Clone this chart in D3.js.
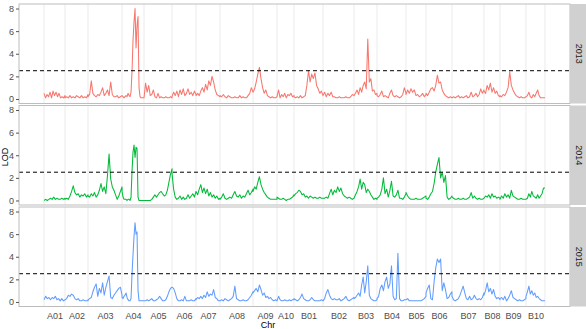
<!DOCTYPE html>
<html><head><meta charset="utf-8">
<script src="https://cdn.jsdelivr.net/npm/d3@7"></script>
<style>body{margin:0;background:#fff}svg{display:block;font-family:"Liberation Sans",Arial,sans-serif}</style>
</head><body><svg id="c" width="586" height="329"></svg>
<script>
const chromosomes = ["A01","A02","A03","A04","A05","A06","A07","A08","A09","A10","B01","B02","B03","B04","B05","B06","B07","B08","B09","B10"];
const chrLengths = [84,92,136,88,112,96,96,132,96,68,116,124,92,116,80,104,128,64,104,76];
const years = ["2013","2014","2015"];
const colors = ["#F8766D","#00BA38","#619CFF"];
const yTicks = [0,2,4,6,8];
const threshold = 2.5;

const lod2013 = [
 [0.5,0.1,0.4,0.2,0.6,0.1,0.7,0.3,0.6,0.2,0.5,0.1,0.2,0.1,0.3],
 [0.1,0.2,0.1,0.3,0.1,0.2,0.1,0.3,0.2,0.1,0.3,0.1,0.2,0.1,0.4],
 [0.2,0.4,1.6,0.5,0.3,0.2,0.4,0.3,0.6,1.0,0.3,0.5,0.8,0.3,1.5,0.4,0.2,0.2,0.3,0.1,0.2,0.3],
 [0.3,0.2,0.1,0.2,0.3,0.2,0.5,0.3,0.2,0.6,2.5,5.2,6.8,8.0,4.5,6.5,7.3,1.0,0.2,0.1,0.1,0.1,0.1],
 [0.1,1.4,0.6,1.2,0.3,0.4,0.8,0.2,0.1,0.5,0.1,0.2,0.1,0.1,0.2,0.1,0.1,0.2,0.1],
 [0.2,0.6,0.3,0.7,0.2,0.8,0.4,0.9,0.3,0.5,0.9,0.4,0.6,0.3,0.7,0.4],
 [0.3,0.5,0.3,0.7,1.0,0.6,1.3,0.8,1.6,1.2,2.0,1.5,0.8,0.4,0.3,0.2],
 [0.3,0.2,0.4,0.2,0.1,0.3,0.2,0.1,0.1,0.2,0.1,0.1,0.3,0.1,0.2,0.1,0.1,0.3,0.5,1.0,0.6],
 [0.6,0.9,1.5,2.2,2.8,1.8,1.0,0.5,0.8,0.3,0.2,0.1,0.2,0.1,0.1,0.2],
 [0.2,0.8,0.1,0.4,0.2,0.5,0.1,0.4,0.3,0.5,0.2,0.3],
 [0.2,0.1,0.2,0.1,0.3,0.1,0.2,0.3,1.2,2.5,1.5,2.2,1.8,2.3,1.2,0.9,0.5,0.7,0.3],
 [0.3,0.6,0.2,0.5,0.3,0.6,0.2,0.2,0.1,0.1,0.2,0.1,0.1,0.1,0.2,0.1,0.1,0.2,0.4,0.3],
 [0.3,0.5,0.8,0.4,1.0,0.6,1.2,1.5,0.9,5.3,1.5,1.8,0.7,0.8,0.4,0.5],
 [0.3,0.2,0.4,0.7,0.2,0.3,0.2,0.1,0.5,0.8,0.3,0.2,0.3,0.2,0.1,0.2,0.4,1.0,0.5],
 [0.4,0.8,0.5,0.9,0.6,0.8,0.3,0.4,0.2,0.3,0.5,0.2,0.4],
 [0.5,0.3,0.6,0.9,1.0,0.7,1.2,2.1,1.4,1.5,0.8,0.5,0.3,0.2,0.1,0.2,0.1],
 [0.1,0.2,0.1,0.2,0.3,0.1,0.2,0.1,0.2,0.3,0.1,0.2,0.6,0.2,0.3,0.5,0.2,0.4,0.9,0.5,0.8],
 [0.7,0.5,1.2,0.8,1.4,0.6,1.0,0.5,0.7,0.3,0.2],
 [0.3,0.2,0.4,0.3,0.6,1.0,2.4,1.2,0.8,0.5,0.3,0.2,0.1,0.2,0.1,0.1,0.2],
 [0.2,0.3,0.6,0.2,0.1,0.4,0.2,0.5,0.8,0.3,0.1,0.1,0.1,0.1]
];
const lod2014 = [
 [0.0,0.1,0.0,0.1,0.2,0.1,0.3,0.1,0.2,0.1,0.1,0.2,0.1,0.2],
 [0.1,0.2,0.1,0.4,0.8,1.3,0.7,0.5,0.6,0.3,0.5,0.4,0.6,0.3,0.5],
 [0.4,0.3,0.6,0.4,0.7,0.3,0.5,0.9,1.5,0.8,1.2,0.6,2.2,4.1,1.9,1.2,0.9,0.5,0.1,0.4,0.8,1.2],
 [0.8,0.3,0.1,0.1,0.1,0.0,0.1,0.1,0.0,0.3,2.6,4.3,4.9,3.8,4.7,4.6,0.3,0.0,0.0,0.0,0.0,0.0,0.0],
 [0.0,0.0,0.0,0.0,0.0,0.1,0.3,0.5,0.3,0.5,0.7,0.8,0.6,0.4,0.5,0.9,1.6,2.3,2.8],
 [2.4,1.0,0.3,0.1,0.2,0.4,0.1,0.3,0.1,0.2,0.5,0.2,0.4,0.6,0.3,0.8],
 [0.8,0.5,1.0,1.4,0.7,1.1,0.6,1.0,0.4,0.7,0.3,0.5,0.2,0.4,0.1,0.2],
 [0.1,0.3,0.6,0.2,0.1,0.2,0.3,0.2,0.5,0.8,0.4,0.3,0.5,0.2,0.4,0.3,0.6,0.9,0.5,0.7,1.0],
 [0.8,1.2,1.0,1.6,2.1,1.4,1.0,0.7,0.5,0.3,0.2,0.1,0.1,0.1,0.1,0.1],
 [0.3,0.2,0.1,0.1,0.2,0.1,0.0,0.1,0.1,0.2,0.3,0.5],
 [0.4,0.6,0.7,0.9,0.8,0.5,0.6,0.3,0.4,0.2,0.4,0.3,0.2,0.3,0.2,0.2,0.3,0.2,0.2],
 [0.2,0.2,0.3,0.2,0.6,1.0,0.5,0.9,0.7,1.2,0.8,1.1,0.6,0.4,0.3,0.2,0.3,0.2,0.1,0.2],
 [0.2,0.5,0.8,1.2,1.9,1.0,1.6,1.4,0.7,1.0,0.8,0.5,0.3,0.1,0.2,0.1],
 [0.2,0.3,0.5,1.0,2.0,0.6,1.0,0.3,0.9,1.7,0.4,0.3,0.5,0.9,0.2,0.2,0.1,0.3,0.6],
 [0.7,0.4,0.2,0.1,0.1,0.1,0.2,0.1,0.1,0.1,0.2,0.3,0.4],
 [0.2,0.1,0.3,0.6,0.8,1.5,2.5,3.2,3.8,2.0,2.5,1.6,2.2,0.3,0.1,0.2,0.4],
 [0.3,0.2,0.1,0.1,0.2,0.1,0.1,0.2,0.1,0.1,0.2,0.3,0.7,0.2,0.4,0.2,0.1,0.2,0.1,0.1,0.2],
 [0.2,0.4,0.3,0.5,0.2,0.6,0.3,0.4,0.2,0.3,0.2],
 [0.1,0.4,0.2,0.6,0.3,0.5,0.2,0.9,0.4,0.3,0.2,0.1,0.1,0.2,0.1,0.1,0.1],
 [0.1,0.2,0.6,0.3,0.8,0.4,0.3,0.2,0.5,0.2,0.4,0.6,1.1,1.1]
];
const lod2015 = [
 [0.2,0.5,0.3,0.4,0.2,0.4,0.3,0.5,0.2,0.3,0.1,0.3,0.1,0.2],
 [0.2,0.3,0.6,0.5,0.7,0.6,0.3,0.2,0.3,0.1,0.1,0.2,0.1,0.1,0.1],
 [0.2,0.3,0.4,0.9,1.3,1.6,0.5,1.2,0.8,1.7,0.6,1.3,1.8,2.3,0.4,0.3,0.6,0.8,1.0,1.2,1.3,0.6],
 [0.4,0.3,0.5,0.6,0.8,0.4,0.2,0.1,0.1,0.3,2.5,4.2,5.8,7.0,6.0,6.2,1.0,0.1,0.1,0.1,0.1,0.1,0.1],
 [0.1,0.1,0.2,0.1,0.2,0.3,0.1,0.1,0.2,0.3,0.5,0.3,0.1,0.1,0.2,0.5,0.9,1.2,1.3],
 [1.3,1.2,0.8,0.3,0.1,0.1,0.2,0.1,0.5,0.1,0.1,0.1,0.2,0.1,0.1,0.3],
 [0.2,0.4,0.3,0.5,0.3,0.6,0.4,0.9,0.5,0.7,0.6,1.1,0.4,0.3,0.1,0.1],
 [0.1,0.2,0.1,0.3,0.2,0.1,0.2,0.3,0.5,1.4,0.3,0.2,0.1,0.1,0.2,0.1,0.1,0.2,0.4,0.6,0.9],
 [0.8,1.0,1.2,0.9,1.5,1.1,0.6,0.8,0.4,0.5,0.3,0.4,0.2,0.1,0.2,0.1],
 [0.1,0.5,0.2,0.1,0.1,0.2,0.1,0.1,0.2,0.1,0.2,0.2],
 [0.3,0.2,0.1,0.2,0.4,0.7,0.3,0.2,0.1,0.1,0.2,0.4,0.2,0.1,0.1,0.1,0.1,0.2,0.1],
 [0.1,0.3,0.8,1.1,0.6,0.3,0.2,0.3,0.2,0.2,0.3,0.1,0.2,0.3,0.5,0.2,0.1,0.2,0.3,0.4],
 [0.3,0.4,0.6,0.8,0.5,1.5,2.2,0.8,1.8,3.2,0.6,0.3,0.2,0.1,0.1,0.2],
 [0.3,0.5,1.2,1.5,1.0,1.8,2.2,1.2,1.6,3.2,0.5,0.2,0.3,4.3,0.3,0.1,0.1,0.2,0.2],
 [0.2,0.3,0.1,0.1,0.1,0.1,0.1,0.1,0.1,0.1,0.2,0.3,0.5],
 [0.8,1.2,1.5,0.3,0.2,1.8,3.0,3.8,3.5,3.8,1.0,1.7,1.1,0.3,0.4,0.7,0.9],
 [0.5,0.2,0.1,0.2,0.3,0.6,1.0,1.4,0.8,0.3,0.2,0.5,0.2,0.3,0.6,0.3,0.2,0.3,0.2,0.4,0.8],
 [0.6,1.0,1.7,0.9,1.2,0.7,1.1,0.5,0.3,0.4,0.2],
 [0.3,0.4,0.2,0.5,0.1,0.3,0.6,1.0,0.4,0.3,0.2,0.1,0.2,0.1,0.1,0.2,0.3],
 [0.5,0.9,1.4,0.7,1.0,0.6,0.8,0.4,0.5,0.3,0.2,0.1,0.1,0.1]
];
const lodByYear = [lod2013, lod2014, lod2015];

const starts = [];
let acc = 0;
chrLengths.forEach(l => { starts.push(acc); acc += l; });
const total = acc;
const bounds = starts.concat([total]);

const svg = d3.select("#c");
const left = 19, right = 570, stripW = 17;
const panelTop0 = 4, panelH = 99.5, gap = 2;

const x = d3.scaleLinear().domain([-0.05*total, total*1.05]).range([left, right]);

function series(lod) {
  const pts = [];
  lod.forEach((vals, ci) => {
    const n = vals.length;
    vals.forEach((v, i) => pts.push([starts[ci] + chrLengths[ci]*i/(n-1), v]));
  });
  return pts;
}

years.forEach((yr, k) => {
  const top = panelTop0 + k*(panelH + gap);
  const bottom = top + panelH;
  const y = d3.scaleLinear().domain([-0.4, 8.4]).range([bottom, top]);
  const g = svg.append("g");
  g.append("rect").attr("x", left).attr("y", top).attr("width", right-left).attr("height", panelH).attr("fill", "#fff");
  g.selectAll("line.vg").data(bounds).join("line")
    .attr("x1", d => x(d)).attr("x2", d => x(d)).attr("y1", top).attr("y2", bottom)
    .attr("stroke", "#e6e6e6").attr("stroke-width", 0.8);
  const line = d3.line().x(d => x(d[0])).y(d => y(d[1]));
  g.append("path").datum(series(lodByYear[k])).attr("d", line)
    .attr("fill", "none").attr("stroke", colors[k]).attr("stroke-width", 1.05).attr("stroke-linejoin", "round");
  g.append("line").attr("x1", left).attr("x2", right).attr("y1", y(threshold)).attr("y2", y(threshold))
    .attr("stroke", "#000").attr("stroke-width", 1).attr("stroke-dasharray", "4,3");
  g.append("rect").attr("x", left).attr("y", top).attr("width", right-left).attr("height", panelH)
    .attr("fill", "none").attr("stroke", "#bdbdbd").attr("stroke-width", 1);
  const ya = g.append("g").attr("transform", `translate(${left},0)`)
    .call(d3.axisLeft(y).tickValues(yTicks).tickSize(3).tickPadding(2).tickFormat(d3.format("d")));
  ya.select(".domain").remove();
  ya.selectAll("line").attr("stroke", "#555");
  ya.selectAll("text").attr("fill", "#4d4d4d").style("font-size", "9px").style("font-family", "Liberation Sans, Arial, sans-serif");
  g.append("rect").attr("x", right).attr("y", top).attr("width", stripW).attr("height", panelH).attr("fill", "#d0d0d0");
  g.append("text").attr("transform", `translate(${right + stripW/2 - 3},${top + panelH/2}) rotate(90)`)
    .attr("text-anchor", "middle").attr("fill", "#1a1a1a").style("font-size", "9px").text(yr);
});

const lastBottom = panelTop0 + 2*(panelH+gap) + panelH;
const xa = svg.append("g").attr("transform", `translate(0,${lastBottom})`)
  .call(d3.axisBottom(x).tickValues(starts.map((s,i) => s + chrLengths[i]/2)).tickSize(0).tickPadding(6)
    .tickFormat((d,i) => chromosomes[i]));
xa.select(".domain").remove();
xa.selectAll("text").attr("fill", "#4d4d4d").style("font-size", "9px").style("font-family", "Liberation Sans, Arial, sans-serif");

svg.append("text").attr("x", 268).attr("y", 328).attr("text-anchor", "middle").attr("fill", "#000").style("font-size", "9px").text("Chr");
svg.append("text").attr("transform", "translate(8,157) rotate(-90)").attr("text-anchor", "middle").attr("fill", "#000").style("font-size", "9px").text("LOD");
</script></body></html>
